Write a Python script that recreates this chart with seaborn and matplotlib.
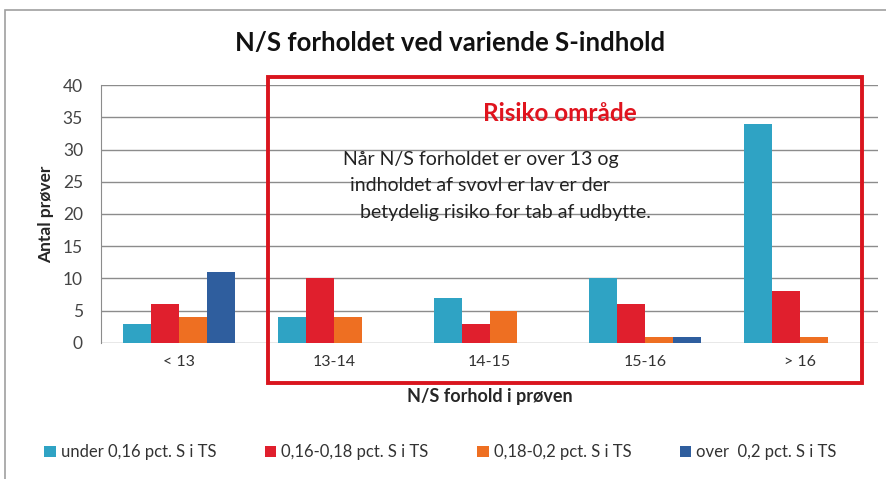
import matplotlib
import matplotlib.pyplot as plt
import pandas as pd
import seaborn as sns
from matplotlib.patches import Rectangle

matplotlib.use("Agg")

categories = ["< 13", "13-14", "14-15", "15-16", "> 16"]
series_names = [
    "under 0,16 pct. S i TS",
    "0,16-0,18 pct. S i TS",
    "0,18-0,2 pct. S i TS",
    "over  0,2 pct. S i TS",
]
under_016 = [3, 4, 7, 10, 34]
s016_018 = [6, 10, 3, 6, 8]
s018_02 = [4, 4, 5, 1, 1]
over_02 = [11, 0, 0, 1, 0]
colors = ["#2FA3C4", "#E01F2D", "#EE6F22", "#2F5E9E"]

rows = []
for name, vals in zip(series_names, [under_016, s016_018, s018_02, over_02]):
    for cat, v in zip(categories, vals):
        rows.append({"kategori": cat, "serie": name, "antal": v})
df = pd.DataFrame(rows)

sns.set_style("white")
plt.rcParams["font.family"] = ["Lato", "DejaVu Sans"]

fig = plt.figure(figsize=(8.86, 4.79), dpi=100)
ax = fig.add_axes([0.114, 0.284, 0.877, 0.5385])

sns.barplot(
    data=df,
    x="kategori",
    y="antal",
    hue="serie",
    order=categories,
    hue_order=series_names,
    palette=colors,
    width=0.72,
    saturation=1,
    linewidth=0,
    ax=ax,
    legend=True,
)

ax.set_ylim(0, 40)
ax.set_xlim(-0.5, 4.5)
ax.set_yticks(range(0, 41, 5))
ax.yaxis.grid(True, color="#8c8c8c", linewidth=1)
ax.set_axisbelow(True)
for side in ["top", "right", "bottom"]:
    ax.spines[side].set_visible(False)
ax.spines["left"].set_color("#8c8c8c")
ax.tick_params(axis="y", length=6, color="#8c8c8c", labelsize=12.5, labelcolor="#444444", pad=7)
ax.tick_params(axis="x", length=0, labelsize=11.5, labelcolor="#333333", pad=9)

ax.set_xlabel("N/S forhold i prøven", fontsize=13, fontweight="bold", labelpad=13)
ax.set_ylabel("Antal prøver", fontsize=12.5, fontweight="bold", labelpad=6)
fig.text(0.508, 0.91, "N/S forholdet ved variende S-indhold",
         ha="center", va="center", fontsize=18.5, fontweight="bold", color="#111111")

# risk area box
ax.add_patch(Rectangle((0.575, -6.2), 3.822, 47.45, fill=False, edgecolor="#D9151E",
                       linewidth=2.8, clip_on=False, zorder=5))
fig.text(0.632, 0.764, "Risiko område", ha="center", va="center",
         fontsize=17.5, fontweight="bold", color="#E0141E")
note_lines = [
    ("Når N/S forholdet er over 13 og", 0.387, 0.668),
    ("indholdet af svovl er lav er der", 0.395, 0.613),
    ("betydelig risiko for tab af udbytte.", 0.406, 0.557),
]
for txt, x, y in note_lines:
    fig.text(x, y, txt, ha="left", va="center", fontsize=14, color="#222222")

handles, labels = ax.get_legend_handles_labels()
ax.get_legend().remove()
fig.legend(handles, labels, loc="center", bbox_to_anchor=(0.497, 0.056), ncol=4,
           frameon=False, fontsize=12, handlelength=0.7, handleheight=0.7,
           handletextpad=0.3, columnspacing=2.9, labelcolor="#333333")

# outer chart frame
fig.add_artist(Rectangle((0.006, -0.02), 1.2, 1.0, transform=fig.transFigure,
                         fill=False, edgecolor="#a0a0a0", linewidth=1.2))

fig.savefig("out.png", dpi=100)
